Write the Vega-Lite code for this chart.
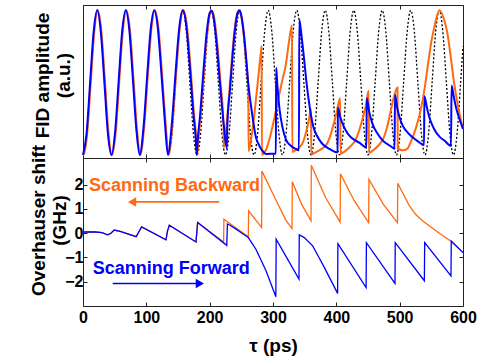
{
"$schema": "https://vega.github.io/schema/vega-lite/v6.json",
"padding": {"left": 28, "top": 4, "right": 5, "bottom": 0},
"spacing": 0,
"bounds": "flush",
"config": {
 "view": {"stroke": "#222", "strokeWidth": 1},
 "font": "Liberation Sans",
 "axis": {"labelFont": "Liberation Sans", "titleFont": "Liberation Sans", "labelFontWeight": "bold", "titleFontWeight": "bold", "labelFontSize": 16, "titleFontSize": 19, "labelColor": "#000", "titleColor": "#000", "grid": false, "domain": false, "tickColor": "#222", "tickSize": -4, "labelFlush": false, "labelOverlap": false}
},
"vconcat": [
{
 "width": 380, "height": 153,
 "data": {"values": [
{"s":"d","t":135,"v":0.02},{"s":"d","t":140.625,"v":0.158},{"s":"d","t":146.25,"v":0.4925},{"s":"d","t":151.875,"v":0.827},{"s":"d","t":157.5,"v":0.965},{"s":"d","t":163.125,"v":0.827},{"s":"d","t":168.75,"v":0.4925},{"s":"d","t":174.375,"v":0.158},
{"s":"d","t":180,"v":0.02},{"s":"d","t":185.625,"v":0.158},{"s":"d","t":191.25,"v":0.4925},{"s":"d","t":196.875,"v":0.827},{"s":"d","t":202.5,"v":0.965},{"s":"d","t":208.125,"v":0.827},{"s":"d","t":213.75,"v":0.4925},{"s":"d","t":219.375,"v":0.158},
{"s":"d","t":225,"v":0.02},{"s":"d","t":230.625,"v":0.158},{"s":"d","t":236.25,"v":0.4925},{"s":"d","t":241.875,"v":0.827},{"s":"d","t":247.5,"v":0.965},{"s":"d","t":253.125,"v":0.827},{"s":"d","t":258.75,"v":0.4925},{"s":"d","t":264.375,"v":0.158},
{"s":"d","t":270,"v":0.02},{"s":"d","t":275.625,"v":0.158},{"s":"d","t":281.25,"v":0.4925},{"s":"d","t":286.875,"v":0.827},{"s":"d","t":292.5,"v":0.965},{"s":"d","t":298.125,"v":0.827},{"s":"d","t":303.75,"v":0.4925},{"s":"d","t":309.375,"v":0.158},
{"s":"d","t":315,"v":0.02},{"s":"d","t":320.625,"v":0.158},{"s":"d","t":326.25,"v":0.4925},{"s":"d","t":331.875,"v":0.827},{"s":"d","t":337.5,"v":0.965},{"s":"d","t":343.125,"v":0.827},{"s":"d","t":348.75,"v":0.4925},{"s":"d","t":354.375,"v":0.158},
{"s":"d","t":360,"v":0.02},{"s":"d","t":365.625,"v":0.158},{"s":"d","t":371.25,"v":0.4925},{"s":"d","t":376.875,"v":0.827},{"s":"d","t":382.5,"v":0.965},{"s":"d","t":388.125,"v":0.827},{"s":"d","t":393.75,"v":0.4925},{"s":"d","t":399.375,"v":0.158},
{"s":"d","t":405,"v":0.02},{"s":"d","t":410.625,"v":0.158},{"s":"d","t":416.25,"v":0.4925},{"s":"d","t":421.875,"v":0.827},{"s":"d","t":427.5,"v":0.965},{"s":"d","t":433.125,"v":0.827},{"s":"d","t":438.75,"v":0.4925},{"s":"d","t":444.375,"v":0.158},
{"s":"d","t":450,"v":0.02},{"s":"d","t":455.625,"v":0.158},{"s":"d","t":461.25,"v":0.4925},{"s":"d","t":466.875,"v":0.827},{"s":"d","t":472.5,"v":0.965},{"s":"d","t":478.125,"v":0.827},{"s":"d","t":483.75,"v":0.4925},{"s":"d","t":489.375,"v":0.158},
{"s":"d","t":495,"v":0.02},{"s":"d","t":500.625,"v":0.158},{"s":"d","t":506.25,"v":0.4925},{"s":"d","t":511.875,"v":0.827},{"s":"d","t":517.5,"v":0.965},{"s":"d","t":523.125,"v":0.827},{"s":"d","t":528.75,"v":0.4925},{"s":"d","t":534.375,"v":0.158},
{"s":"d","t":540,"v":0.02},{"s":"d","t":545.625,"v":0.158},{"s":"d","t":551.25,"v":0.4925},{"s":"d","t":556.875,"v":0.827},{"s":"d","t":562.5,"v":0.965},{"s":"d","t":568.125,"v":0.827},{"s":"d","t":573.75,"v":0.4925},{"s":"d","t":579.375,"v":0.158},
{"s":"d","t":585,"v":0.02},{"s":"d","t":590.625,"v":0.158},{"s":"d","t":596.25,"v":0.4925},{"s":"d","t":600,"v":0.729},
{"s":"o","t":0,"v":0.02},{"s":"o","t":1,"v":0.02},{"s":"o","t":6.625,"v":0.159},{"s":"o","t":12.25,"v":0.494},{"s":"o","t":17.875,"v":0.828},{"s":"o","t":23.5,"v":0.965},{"s":"o","t":29.125,"v":0.824},{"s":"o","t":34.75,"v":0.496},{"s":"o","t":40.375,"v":0.158},{"s":"o","t":46,"v":0.02},{"s":"o","t":51.625,"v":0.167},{"s":"o","t":57.25,"v":0.5},{"s":"o","t":62.875,"v":0.828},{"s":"o","t":68.5,"v":0.965},{"s":"o","t":74.125,"v":0.837},{"s":"o","t":79.75,"v":0.517},{"s":"o","t":85.375,"v":0.181},{"s":"o","t":90.5,"v":0.02},{"s":"o","t":96.625,"v":0.203},{"s":"o","t":102.25,"v":0.533},{"s":"o","t":107.875,"v":0.839},{"s":"o","t":113.5,"v":0.965},{"s":"o","t":119.125,"v":0.849},{"s":"o","t":124.75,"v":0.555},{"s":"o","t":130.375,"v":0.232},{"s":"o","t":135,"v":0.021},{"s":"o","t":141.625,"v":0.241},{"s":"o","t":147.25,"v":0.562},{"s":"o","t":152.875,"v":0.848},{"s":"o","t":158.5,"v":0.965},{"s":"o","t":164.125,"v":0.864},{"s":"o","t":169.75,"v":0.595},{"s":"o","t":175.375,"v":0.284},{"s":"o","t":179,"v":0.126},{"s":"o","t":180.5,"v":0.02},{"s":"o","t":182,"v":0.113},{"s":"o","t":186,"v":0.286},{"s":"o","t":191,"v":0.559},{"s":"o","t":196,"v":0.807},{"s":"o","t":201,"v":0.949},{"s":"o","t":204,"v":0.963},{"s":"o","t":207,"v":0.922},{"s":"o","t":212,"v":0.75},{"s":"o","t":217,"v":0.5},
{"s":"o","t":222,"v":0.207},{"s":"o","t":222.5,"v":0.07},{"s":"o","t":226,"v":0.187},{"s":"o","t":230,"v":0.38},{"s":"o","t":234,"v":0.595},{"s":"o","t":238,"v":0.787},{"s":"o","t":242,"v":0.918},{"s":"o","t":246,"v":0.965},{"s":"o","t":250,"v":0.92},{"s":"o","t":254,"v":0.793},{"s":"o","t":258,"v":0.612},{"s":"o","t":261,"v":0.46},{"s":"o","t":261.5,"v":0.045},{"s":"o","t":265,"v":0.113},{"s":"o","t":269,"v":0.232},{"s":"o","t":273,"v":0.38},{"s":"o","t":277,"v":0.537},{"s":"o","t":281,"v":0.697},{"s":"o","t":282,"v":0.732},{"s":"o","t":282.5,"v":0.02},{"s":"o","t":286,"v":0.031},{"s":"o","t":290,"v":0.065},{"s":"o","t":294,"v":0.117},{"s":"o","t":298,"v":0.183},{"s":"o","t":302,"v":0.258},{"s":"o","t":305,"v":0.318},{"s":"o","t":310,"v":0.418},{"s":"o","t":315,"v":0.514},{"s":"o","t":320,"v":0.602},{"s":"o","t":325,"v":0.752},{"s":"o","t":330,"v":0.868},{"s":"o","t":330.5,"v":0.039},{"s":"o","t":336,"v":0.052},{"s":"o","t":342,"v":0.07},{"s":"o","t":347,"v":0.1},{"s":"o","t":352,"v":0.165},{"s":"o","t":356,"v":0.235},{"s":"o","t":360,"v":0.32},{"s":"o","t":360.5,"v":0.024},{"s":"o","t":368,"v":0.038},{"s":"o","t":376,"v":0.058},{"s":"o","t":384,"v":0.085},{"s":"o","t":390,"v":0.14},{"s":"o","t":395,"v":0.21},{"s":"o","t":400,"v":0.29},{"s":"o","t":406,"v":0.39},{"s":"o","t":406.5,"v":0.028},{"s":"o","t":414,"v":0.045},{"s":"o","t":422,"v":0.075},{"s":"o","t":430,"v":0.115},{"s":"o","t":436,"v":0.18},{"s":"o","t":441,"v":0.25},{"s":"o","t":446,"v":0.33},{"s":"o","t":451,"v":0.44},{"s":"o","t":451.5,"v":0.032},{"s":"o","t":458,"v":0.05},{"s":"o","t":466,"v":0.08},{"s":"o","t":474,"v":0.125},{"s":"o","t":480,"v":0.2},{"s":"o","t":486,"v":0.31},{"s":"o","t":491,"v":0.4},{"s":"o","t":496.5,"v":0.46},{"s":"o","t":497,"v":0.063},{"s":"o","t":505,"v":0.05},{"s":"o","t":512,"v":0.06},{"s":"o","t":518,"v":0.11},{"s":"o","t":526,"v":0.2},{"s":"o","t":534,"v":0.33},{"s":"o","t":540,"v":0.47},{"s":"o","t":544,"v":0.59},{"s":"o","t":550,"v":0.76},{"s":"o","t":555,"v":0.86},{"s":"o","t":562.5,"v":0.965},{"s":"o","t":569,"v":0.92},{"s":"o","t":576,"v":0.8},{"s":"o","t":581,"v":0.65},{"s":"o","t":586,"v":0.49},{"s":"o","t":593,"v":0.32},{"s":"o","t":600,"v":0.19},
{"s":"b","t":0,"v":0.02},{"s":"b","t":5.625,"v":0.159},{"s":"b","t":11.25,"v":0.494},{"s":"b","t":16.875,"v":0.828},{"s":"b","t":22.5,"v":0.965},{"s":"b","t":28.125,"v":0.824},{"s":"b","t":33.75,"v":0.496},{"s":"b","t":39.375,"v":0.158},{"s":"b","t":45,"v":0.02},{"s":"b","t":50.625,"v":0.167},{"s":"b","t":56.25,"v":0.5},{"s":"b","t":61.875,"v":0.828},{"s":"b","t":67.5,"v":0.965},{"s":"b","t":73.125,"v":0.837},{"s":"b","t":78.75,"v":0.517},{"s":"b","t":84.375,"v":0.181},{"s":"b","t":89.5,"v":0.02},{"s":"b","t":95.625,"v":0.203},{"s":"b","t":101.25,"v":0.533},{"s":"b","t":106.875,"v":0.839},{"s":"b","t":112.5,"v":0.965},{"s":"b","t":118.125,"v":0.849},{"s":"b","t":123.75,"v":0.555},{"s":"b","t":129.375,"v":0.232},{"s":"b","t":134,"v":0.021},{"s":"b","t":140.625,"v":0.241},{"s":"b","t":146.25,"v":0.562},{"s":"b","t":151.875,"v":0.848},{"s":"b","t":157.5,"v":0.965},{"s":"b","t":163.125,"v":0.864},{"s":"b","t":168.75,"v":0.595},{"s":"b","t":174.375,"v":0.284},{"s":"b","t":178,"v":0.126},{"s":"b","t":179.5,"v":0.02},{"s":"b","t":181,"v":0.113},{"s":"b","t":185,"v":0.286},{"s":"b","t":190,"v":0.559},{"s":"b","t":195,"v":0.807},{"s":"b","t":200,"v":0.949},{"s":"b","t":203,"v":0.963},{"s":"b","t":206,"v":0.922},{"s":"b","t":211,"v":0.75},{"s":"b","t":216,"v":0.5},
{"s":"b","t":222,"v":0.226},{"s":"b","t":227,"v":0.064},{"s":"b","t":228,"v":0.223},{"s":"b","t":232,"v":0.44},{"s":"b","t":236,"v":0.658},{"s":"b","t":240,"v":0.84},{"s":"b","t":244,"v":0.945},{"s":"b","t":247,"v":0.964},{"s":"b","t":250,"v":0.931},{"s":"b","t":254,"v":0.814},{"s":"b","t":258,"v":0.636},{"s":"b","t":261,"v":0.483},{"s":"b","t":265,"v":0.35},{"s":"b","t":269,"v":0.231},{"s":"b","t":273,"v":0.136},{"s":"b","t":277,"v":0.092},{"s":"b","t":281,"v":0.06},{"s":"b","t":285,"v":0.039},{"s":"b","t":289,"v":0.026},{"s":"b","t":297,"v":0.027},{"s":"b","t":304.5,"v":0.029},{"s":"b","t":305,"v":0.59},{"s":"b","t":307,"v":0.47},{"s":"b","t":310,"v":0.33},{"s":"b","t":315,"v":0.2},{"s":"b","t":320.5,"v":0.12},{"s":"b","t":328,"v":0.08},{"s":"b","t":336,"v":0.059},{"s":"b","t":341,"v":0.05},{"s":"b","t":341.5,"v":0.904},{"s":"b","t":345,"v":0.8},{"s":"b","t":349.5,"v":0.63},{"s":"b","t":352.5,"v":0.507},{"s":"b","t":356,"v":0.39},{"s":"b","t":360.4,"v":0.27},{"s":"b","t":364,"v":0.2},{"s":"b","t":368,"v":0.157},{"s":"b","t":373,"v":0.12},{"s":"b","t":378.5,"v":0.09},{"s":"b","t":389,"v":0.06},{"s":"b","t":402,"v":0.037},{"s":"b","t":402.5,"v":0.33},{"s":"b","t":406,"v":0.27},{"s":"b","t":410,"v":0.223},{"s":"b","t":415,"v":0.18},{"s":"b","t":420.5,"v":0.146},{"s":"b","t":428,"v":0.12},{"s":"b","t":436.3,"v":0.1},{"s":"b","t":447.5,"v":0.069},{"s":"b","t":448,"v":0.39},{"s":"b","t":452,"v":0.3},{"s":"b","t":457.4,"v":0.22},{"s":"b","t":465,"v":0.16},{"s":"b","t":473,"v":0.115},{"s":"b","t":486,"v":0.077},{"s":"b","t":492,"v":0.06},{"s":"b","t":492.6,"v":0.413},{"s":"b","t":496,"v":0.33},{"s":"b","t":499.5,"v":0.27},{"s":"b","t":505,"v":0.21},{"s":"b","t":510,"v":0.179},{"s":"b","t":520.5,"v":0.135},{"s":"b","t":530,"v":0.105},{"s":"b","t":538.5,"v":0.085},{"s":"b","t":539,"v":0.404},{"s":"b","t":543,"v":0.33},{"s":"b","t":546.8,"v":0.266},{"s":"b","t":552,"v":0.21},{"s":"b","t":557.4,"v":0.168},{"s":"b","t":564,"v":0.135},{"s":"b","t":570.6,"v":0.114},{"s":"b","t":581,"v":0.08},{"s":"b","t":582,"v":0.474},{"s":"b","t":585,"v":0.41},{"s":"b","t":589,"v":0.33},{"s":"b","t":594,"v":0.26},{"s":"b","t":600,"v":0.19}
 ]},
 "encoding": {
  "x": {"field": "t", "type": "quantitative", "scale": {"domain": [0, 600], "nice": false, "zero": false}, "axis": null},
  "y": {"field": "v", "type": "quantitative", "scale": {"domain": [0, 1], "nice": false}, "axis": {"title": ["FID amplitude", "(a.u.)"], "labels": false, "ticks": false, "titleX": -31, "titleY": 70, "titleLineHeight": 21}}
 },
 "layer": [
  {"transform": [{"filter": "datum.s=='d'"}], "mark": {"type": "line", "color": "#000", "strokeWidth": 1.3, "strokeDash": [2, 2], "interpolate": "monotone"},
   "encoding": {"x": {"field": "t", "type": "quantitative", "scale": {"domain": [0, 600], "nice": false, "zero": false}, "axis": {"values": [0, 100, 200, 300, 400, 500, 600], "labels": false, "title": null, "orient": "bottom"}}}},
  {"transform": [{"filter": "datum.s=='o'"}], "mark": {"type": "line", "color": "#FF6A10", "strokeWidth": 2, "interpolate": "monotone"},
   "encoding": {"x": {"field": "t", "type": "quantitative", "scale": {"domain": [0, 600], "nice": false, "zero": false}, "axis": {"values": [0, 100, 200, 300, 400, 500, 600], "labels": false, "title": null, "orient": "top"}}}},
  {"transform": [{"filter": "datum.s=='b'"}], "mark": {"type": "line", "color": "#0000FF", "strokeWidth": 2, "interpolate": "monotone"}}
 ],
 "resolve": {"axis": {"x": "independent"}}
},
{
 "width": 380, "height": 148,
 "data": {"values": [
{"s":"o","t":0,"g":0.05},{"s":"o","t":20,"g":0.05},{"s":"o","t":30,"g":0.02},{"s":"o","t":39,"g":-0.07},{"s":"o","t":44,"g":0.0},{"s":"o","t":49.5,"g":0.13},{"s":"o","t":60,"g":0.07},{"s":"o","t":84,"g":-0.14},{"s":"o","t":88,"g":0.05},{"s":"o","t":92.6,"g":0.26},{"s":"o","t":131,"g":-0.27},{"s":"o","t":133.5,"g":0.1},{"s":"o","t":136.3,"g":0.33},{"s":"o","t":178.4,"g":-0.36},{"s":"o","t":181,"g":0.44},
{"s":"o","t":222,"g":-0.36},{"s":"o","t":222.5,"g":0.58},{"s":"o","t":261,"g":-0.15},{"s":"o","t":261.5,"g":0.92},{"s":"o","t":282,"g":0.24},{"s":"o","t":282.5,"g":2.56},{"s":"o","t":305,"g":1.35},{"s":"o","t":320,"g":0.55},{"s":"o","t":330,"g":0.19},{"s":"o","t":330.5,"g":2.12},{"s":"o","t":345,"g":1.2},{"s":"o","t":360,"g":0.51},{"s":"o","t":360.5,"g":2.8},{"s":"o","t":383,"g":1.47},{"s":"o","t":406,"g":0.46},{"s":"o","t":406.5,"g":2.45},{"s":"o","t":428,"g":1.35},{"s":"o","t":451,"g":0.44},{"s":"o","t":451.5,"g":2.22},{"s":"o","t":474,"g":1.2},{"s":"o","t":496.5,"g":0.44},{"s":"o","t":497,"g":2.06},{"s":"o","t":505,"g":1.65},{"s":"o","t":515,"g":1.15},{"s":"o","t":525,"g":0.78},{"s":"o","t":536,"g":0.51},{"s":"o","t":560,"g":0.05},{"s":"o","t":581,"g":-0.33},{"s":"o","t":600,"g":-0.8},
{"s":"b","t":0,"g":0.05},{"s":"b","t":20,"g":0.05},{"s":"b","t":30,"g":0.02},{"s":"b","t":39,"g":-0.07},{"s":"b","t":44,"g":0.0},{"s":"b","t":49.5,"g":0.13},{"s":"b","t":60,"g":0.07},{"s":"b","t":84,"g":-0.14},{"s":"b","t":88,"g":0.05},{"s":"b","t":92.6,"g":0.26},{"s":"b","t":131,"g":-0.27},{"s":"b","t":133.5,"g":0.1},{"s":"b","t":136.3,"g":0.33},{"s":"b","t":178.4,"g":-0.36},{"s":"b","t":181,"g":0.44},
{"s":"b","t":227,"g":-0.5},{"s":"b","t":228,"g":0.38},{"s":"b","t":232,"g":0.33},{"s":"b","t":240,"g":0.2},{"s":"b","t":250,"g":0.02},{"s":"b","t":261,"g":-0.18},{"s":"b","t":273,"g":-0.66},{"s":"b","t":289,"g":-1.55},{"s":"b","t":304.5,"g":-2.62},{"s":"b","t":305,"g":-0.25},{"s":"b","t":341,"g":-1.89},{"s":"b","t":341.5,"g":-0.07},{"s":"b","t":349.5,"g":-0.18},{"s":"b","t":362.6,"g":-0.52},{"s":"b","t":372.6,"g":-1.0},{"s":"b","t":381,"g":-1.41},{"s":"b","t":402,"g":-2.48},{"s":"b","t":402.5,"g":-0.43},{"s":"b","t":447,"g":-2.24},{"s":"b","t":447.5,"g":-0.39},{"s":"b","t":492.6,"g":-2.07},{"s":"b","t":493,"g":-0.39},{"s":"b","t":539,"g":-1.96},{"s":"b","t":539.5,"g":-0.39},{"s":"b","t":581,"g":-1.76},{"s":"b","t":581.5,"g":-0.32},{"s":"b","t":600,"g":-0.8}
 ]},
 "encoding": {
  "x": {"field": "t", "type": "quantitative", "scale": {"domain": [0, 600], "nice": false, "zero": false}, "axis": null},
  "y": {"field": "g", "type": "quantitative", "scale": {"domain": [-3, 3.1], "nice": false, "zero": false}, "axis": null}
 },
 "layer": [
  {"transform": [{"filter": "datum.s=='o'"}], "mark": {"type": "line", "color": "#FF6A10", "strokeWidth": 1.3},
   "encoding": {
    "x": {"field": "t", "type": "quantitative", "scale": {"domain": [0, 600], "nice": false, "zero": false}, "axis": {"values": [0, 100, 200, 300, 400, 500, 600], "title": "τ (ps)", "labelPadding": 7, "titlePadding": 11, "orient": "bottom"}},
    "y": {"field": "g", "type": "quantitative", "scale": {"domain": [-3, 3.1], "nice": false, "zero": false}, "axis": {"values": [-2, -1, 0, 1, 2], "title": ["Overhauser shift", "(GHz)"], "labelPadding": 4, "titleX": -35, "titleY": 62, "titleLineHeight": 21, "orient": "left"}}
   }},
  {"transform": [{"filter": "datum.s=='b'"}], "mark": {"type": "line", "color": "#0000FF", "strokeWidth": 1.3},
   "encoding": {
    "x": {"field": "t", "type": "quantitative", "scale": {"domain": [0, 600], "nice": false, "zero": false}, "axis": {"values": [0, 100, 200, 300, 400, 500, 600], "labels": false, "title": null, "orient": "top"}},
    "y": {"field": "g", "type": "quantitative", "scale": {"domain": [-3, 3.1], "nice": false, "zero": false}, "axis": {"values": [-2, -1, 0, 1, 2], "labels": false, "title": null, "orient": "right"}}
   }},
  {
   "data": {"values": [{"t": 9.5, "g": 1.93, "txt": "Scanning Backward"}]},
   "mark": {"type": "text", "align": "left", "baseline": "middle", "fontSize": 18, "fontWeight": "bold", "font": "Liberation Sans", "color": "#FF6A10"},
   "encoding": {"text": {"field": "txt"}}
  },
  {
   "data": {"values": [{"t": 15.3, "g": -1.48, "txt": "Scanning Forward"}]},
   "mark": {"type": "text", "align": "left", "baseline": "middle", "fontSize": 18, "fontWeight": "bold", "font": "Liberation Sans", "color": "#0000FF"},
   "encoding": {"text": {"field": "txt"}}
  },
  {
   "data": {"values": [{"t": 80, "t2": 215, "g": 1.29}]},
   "mark": {"type": "rule", "color": "#FF6A10", "strokeWidth": 1.6},
   "encoding": {"x2": {"field": "t2"}}
  },
  {
   "data": {"values": [{"t": 77.5, "g": 1.29}]},
   "mark": {"type": "point", "shape": "triangle-left", "filled": true, "size": 90, "color": "#FF6A10", "opacity": 1}
  },
  {
   "data": {"values": [{"t": 46.9, "t2": 182, "g": -2.07}]},
   "mark": {"type": "rule", "color": "#0000FF", "strokeWidth": 1.6},
   "encoding": {"x2": {"field": "t2"}}
  },
  {
   "data": {"values": [{"t": 184.5, "g": -2.07}]},
   "mark": {"type": "point", "shape": "triangle-right", "filled": true, "size": 90, "color": "#0000FF", "opacity": 1}
  }
 ],
 "resolve": {"axis": {"x": "independent", "y": "independent"}}
}
]
}
